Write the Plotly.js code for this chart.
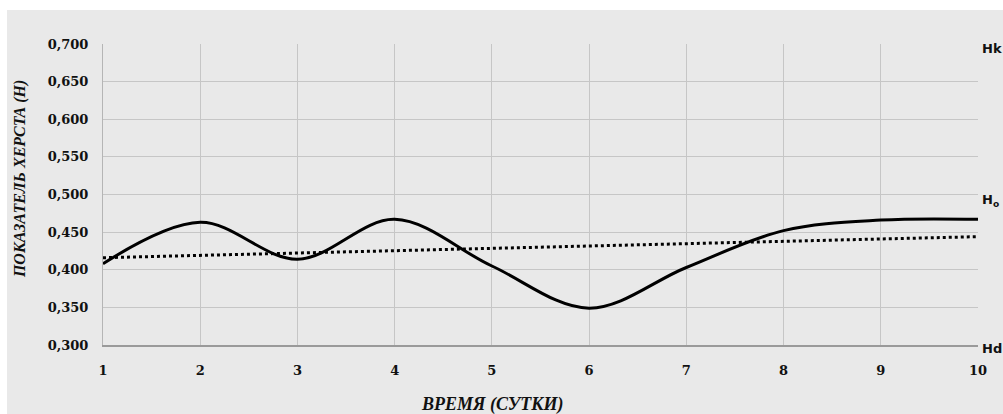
<!DOCTYPE html>
<html>
<head>
<meta charset="utf-8">
<script src="https://cdn.plot.ly/plotly-3.0.1.min.js"></script>
<style>html,body{margin:0;padding:0;background:#fff;}#chart{width:1003px;height:414px;}</style>
</head>
<body>
<div id="chart"></div>
<script>
// Data
var days = [1, 2, 3, 4, 5, 6, 7, 8, 9, 10];
var hurst = [0.408, 0.463, 0.414, 0.467, 0.405, 0.349, 0.403, 0.452, 0.466, 0.467];
var trendDays = [1, 10];
var trendValues = [0.416, 0.444];
var yTicks = [0.300, 0.350, 0.400, 0.450, 0.500, 0.550, 0.600, 0.650, 0.700];
var levelLabels = ['Hk', 'H<sub>o</sub>', 'Hd'];
var levelValues = [0.700, 0.500, 0.300];
var xTitle = 'ВРЕМЯ (СУТКИ)';
var yTitle = 'ПОКАЗАТЕЛЬ ХЕРСТА (Н)';

var traces = [
  {x: days, y: hurst, type: 'scatter', mode: 'lines',
   line: {color: '#000', width: 3, shape: 'spline', smoothing: 1}, hoverinfo: 'skip'},
  {x: trendDays, y: trendValues, type: 'scatter', mode: 'lines',
   line: {color: '#000', width: 3, dash: 'dot'}, hoverinfo: 'skip'}
];

var tickFont = {family: 'DejaVu Serif', size: 13, color: '#111', weight: 'bold'};
var levelShifts = [-4, -6, -3];
var annotations = levelLabels.map(function (t, i) {
  return {text: '<b>' + t + '</b>', x: 1, xref: 'paper', xanchor: 'left', xshift: 2,
          y: levelValues[i], yref: 'y', yanchor: 'middle', yshift: levelShifts[i], showarrow: false,
          font: {family: 'DejaVu Sans', size: 13, color: '#111'}};
});
annotations.push({text: '<b><i>' + xTitle + '</i></b>', x: 0.4446, xref: 'paper', y: -0.199, yref: 'paper',
  xanchor: 'center', yanchor: 'middle', showarrow: false,
  font: {family: 'Liberation Serif', size: 18, color: '#111'}});
annotations.push({text: '<b><i>' + yTitle + '</i></b>', x: -0.0949, xref: 'paper', y: 0.551, yref: 'paper',
  xanchor: 'center', yanchor: 'middle', textangle: -90, showarrow: false,
  font: {family: 'Liberation Serif', size: 16, color: '#111'}});

var layout = {
  width: 1003, height: 414,
  margin: {l: 103, r: 25, t: 44, b: 69},
  paper_bgcolor: '#e9e9e9', plot_bgcolor: '#e9e9e9',
  showlegend: false,
  separators: ', ',
  xaxis: {range: [1, 10], tickvals: days, ticktext: days.map(String), showgrid: true, gridcolor: '#c6c6c6', gridwidth: 1,
          zeroline: false, showline: true, linecolor: '#9a9a9a', linewidth: 2, mirror: false,
          ticks: '', ticklabelstandoff: 12, tickfont: tickFont, fixedrange: true},
  yaxis: {range: [0.3, 0.7], tickvals: yTicks, tickformat: '.3f', showgrid: true, gridcolor: '#c6c6c6', gridwidth: 1,
          zeroline: false, showline: true, linecolor: '#b5b5b5', linewidth: 1,
          ticks: '', ticklabelstandoff: 11, tickfont: tickFont, fixedrange: true},
  shapes: [
    {type: 'rect', xref: 'paper', yref: 'paper', x0: -0.12, x1: 1.03, y0: 1.113, y1: 1.15,
     fillcolor: '#ffffff', line: {width: 0}, layer: 'below'},
    {type: 'rect', xref: 'paper', yref: 'paper', x0: -0.12, x1: -0.1097, y0: -0.23, y1: 1.15,
     fillcolor: '#ffffff', line: {width: 0}, layer: 'below'}
  ],
  annotations: annotations
};

Plotly.newPlot('chart', traces, layout, {staticPlot: true, displayModeBar: false});
</script>
</body>
</html>
